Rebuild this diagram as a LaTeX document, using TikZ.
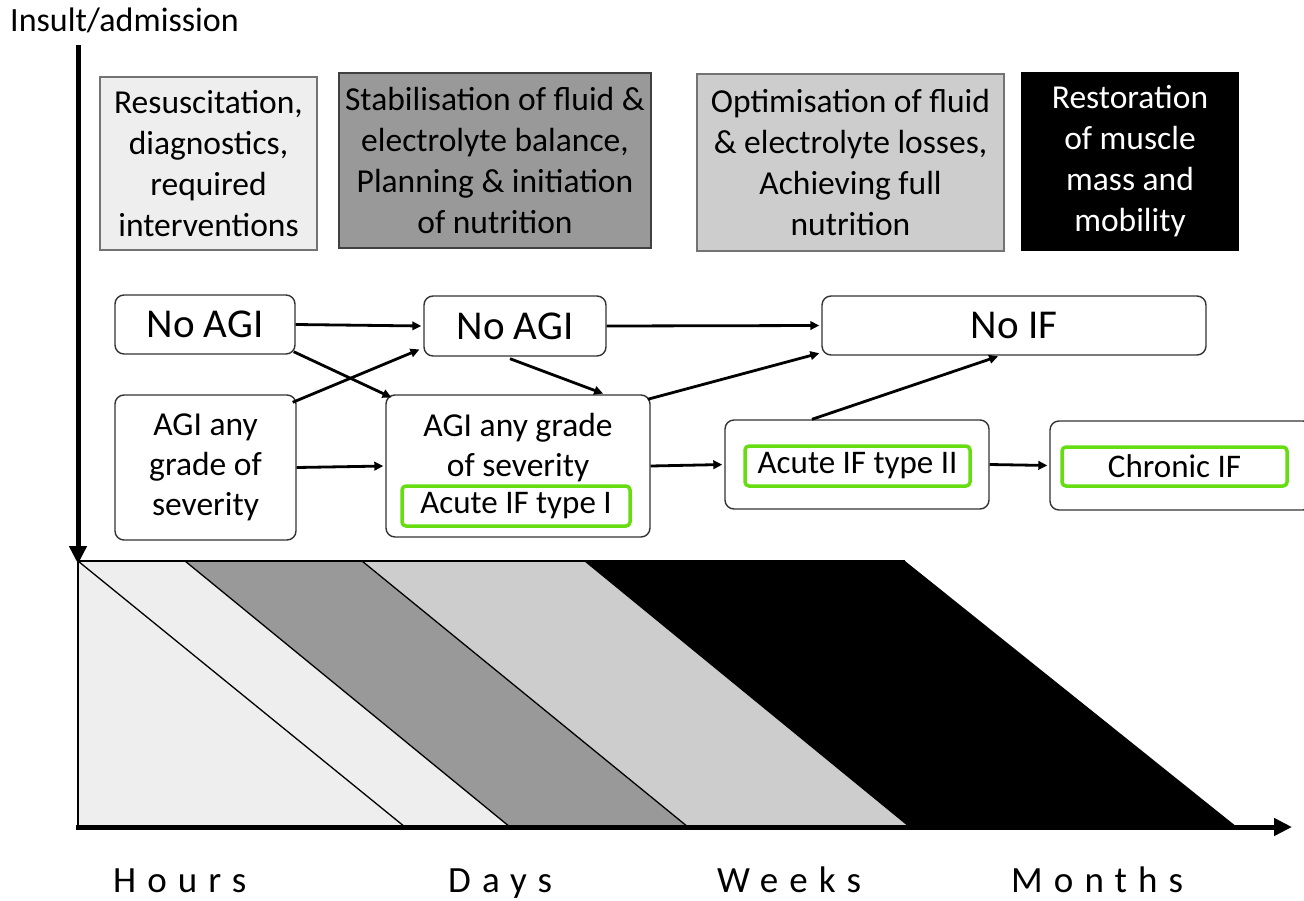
\documentclass[tikz,border=0pt]{standalone}
\usepackage{fontspec}
\setmainfont{Carlito}
\usetikzlibrary{arrows.meta}

\definecolor{phaseA}{HTML}{EEEEEE}
\definecolor{phaseB}{HTML}{999999}
\definecolor{phaseC}{HTML}{CDCDCD}
\definecolor{ifgreen}{HTML}{66DD11}

\tikzset{
  phasebox/.style={draw=black!55, line width=1.4pt, align=center, inner sep=0pt,
    font=\fontsize{33.5}{41}\selectfont},
  statebox/.style={draw=black!80, fill=white, line width=1.4pt, rounded corners=9pt,
    align=center, inner sep=0pt, font=\fontsize{33.5}{40}\selectfont},
  bigstate/.style={statebox, font=\fontsize{41}{44}\selectfont},
  ifbox/.style={draw=ifgreen, line width=3.5pt, rounded corners=4pt, inner sep=0pt,
    font=\fontsize{33}{36}\selectfont},
  flow/.style={line width=2.8pt, shorten >=2pt, -{Triangle[length=9pt,width=8.5pt]}},
  axis/.style={line width=5pt, -{Triangle[length=18pt,width=17pt]}},
  stripe/.style={draw=black, line width=1.3pt},
  timelabel/.style={anchor=base west, inner sep=0pt,
    font=\fontsize{37}{40}\selectfont\addfontfeature{LetterSpace=30}},
}

\begin{document}
\begin{tikzpicture}[x=1pt,y=-1pt]
\useasboundingbox (0,0) rectangle (1304,900);

% ---- phase band ----
\fill[phaseA] (78,561) -- (185,561) -- (510,827) -- (78,827) -- cycle;
\fill[phaseB] (185,561) -- (362,561) -- (688,827) -- (510,827) -- cycle;
\fill[phaseC] (362,561) -- (585,561) -- (910,827) -- (688,827) -- cycle;
\fill[black]  (585,561) -- (905,561) -- (1237,827) -- (910,827) -- cycle;
\draw[stripe] (78,561) -- (405,827);
\draw[stripe] (185,561) -- (510,827);
\draw[stripe] (362,561) -- (688,827);
\draw[stripe] (585,561) -- (910,827);
\draw[stripe] (78,561) -- (905,561);
\draw[stripe] (78,561) -- (78,827);

% ---- axes ----
\coordinate (vtop) at (78,45);
\coordinate (vend) at (78,564);
\coordinate (hstart) at (76,827);
\coordinate (hend) at (1292,827);
\draw[axis] (vtop) -- (vend);
\draw[axis] (hstart) -- (hend);

\node[anchor=base west, inner sep=0pt, font=\fontsize{34}{36}\selectfont] (insult) at (10,31) {Insult/admission};

\node[timelabel] (hours)  at (113,892) {Hours};
\node[timelabel] (days)   at (448,892) {Days};
\node[timelabel] (weeks)  at (717,892) {Weeks};
\node[timelabel] (months) at (1011,892) {Months};

% ---- phase goals ----
\node[phasebox, fill=phaseA, minimum width=217pt, minimum height=173pt] (p1) at (208.5,163.5)
  {Resuscitation,\\diagnostics,\\required\\interventions};
\node[phasebox, fill=phaseB, draw=black!75, minimum width=312pt, minimum height=175pt] (p2) at (495,160.5)
  {Stabilisation of fluid \&\\electrolyte balance,\\Planning \& initiation\\of nutrition};
\node[phasebox, fill=phaseC, minimum width=307pt, minimum height=177pt] (p3) at (850.5,162.5)
  {Optimisation of fluid\\\& electrolyte losses,\\Achieving full\\nutrition};
\node[phasebox, fill=black, draw=black, text=white, minimum width=216pt, minimum height=177pt] (p4) at (1130,161.5)
  {Restoration\\of muscle\\mass and\\mobility};

% ---- states ----
\node[bigstate, minimum width=180pt, minimum height=59pt] (n1) at (205,324.5) {No AGI};
\node[bigstate, minimum width=182pt, minimum height=60pt] (n2) at (515,326) {No AGI};
\node[bigstate, minimum width=384pt, minimum height=59pt] (n3) at (1014,325.5) {No IF};

\node[statebox, minimum width=181pt, minimum height=145pt] (a1) at (205.5,467.5)
  {AGI any\\grade of\\severity};
\node[statebox, minimum width=264pt, minimum height=142pt] (a2) at (518,466) {};
\node[font=\fontsize{33.5}{40}\selectfont, align=center] (a2text) at (518,448)
  {AGI any grade\\of severity};
\node[ifbox, minimum width=228pt, minimum height=40pt] (g1) at (516,506) {Acute IF type I};

\node[statebox, minimum width=264pt, minimum height=89pt] (a3) at (857,464.5) {};
\node[ifbox, minimum width=225pt, minimum height=40pt] (g2) at (857.5,466) {Acute IF type II};

\node[statebox, minimum width=262pt, minimum height=89pt] (a4) at (1181,465.5) {};
\node[ifbox, minimum width=225pt, minimum height=39pt] (g3) at (1174.5,466.5) {Chronic IF};

% ---- transitions ----
\draw[flow] (n1.east) -- (n2.west);
\draw[flow] ([shift={(-2,-3)}]n1.south east) -- ([shift={(8,4)}]a2.north west);
\draw[flow] ([shift={(-4,8)}]a1.north east) -- ([shift={(-2,-8)}]n2.south west);
\draw[flow] (a1.east) -- (a2.west);
\draw[flow] (n2.east) -- (n3.west);
\draw[flow] ([shift={(-5,2)}]n2.south) -- ([shift={(87,0)}]a2.north);
\draw[flow] ([shift={(-3,5)}]a2.north east) -- ([shift={(0,-3)}]n3.south west);
\draw[flow] (a2.east) -- (a3.west);
\draw[flow] ([shift={(-45,0)}]a3.north) -- ([shift={(-14,0)}]n3.south);
\draw[flow] (a3.east) -- (a4.west);
\end{tikzpicture}
\end{document}
